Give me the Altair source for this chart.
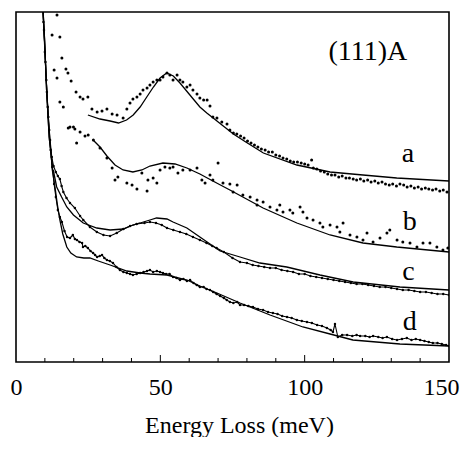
import altair as alt
import pandas as pd

# ---- data: (energy loss meV, intensity arb.) ----
tail = [(9.0, 372), (9.9, 322), (10.6, 272), (11.5, 225), (12.1, 209), (12.7, 190)]

fit_a = [(24.9, 247), (29.1, 243), (32.6, 241), (35.5, 239), (38.3, 242), (40.6, 247),
         (43.0, 255), (45.3, 265), (47.6, 275), (49.9, 284), (52.2, 289), (54.5, 286),
         (56.8, 279), (59.1, 271), (61.4, 263), (63.7, 255), (66.1, 249), (68.3, 244),
         (71.8, 236), (75.3, 228), (79.6, 220), (85.7, 209), (97.3, 197), (108.8, 190),
         (120.2, 187), (131.9, 184), (150.0, 181)]

fit_b = [(26.7, 222), (29.1, 215), (31.5, 206), (34.3, 197), (37.1, 192), (40.5, 190),
         (43.6, 192), (46.4, 196), (50.9, 199), (55.1, 198), (59.2, 194), (63.7, 188),
         (68.2, 181), (74.1, 172), (85.6, 154), (97.3, 139), (108.8, 127), (120.2, 119),
         (131.9, 115), (150.0, 110)]

fit_c = tail + [(12.9, 192), (14.1, 175), (15.8, 165), (17.6, 155), (19.9, 147), (23.3, 139),
                (28.0, 134), (32.6, 132), (37.2, 133), (40.5, 137), (43.0, 139), (46.4, 142),
                (48.7, 144), (52.3, 143), (54.4, 140), (59.2, 134), (63.7, 125), (70.7, 111),
                (77.6, 105), (84.5, 99), (93.8, 95), (105.3, 87), (116.8, 80), (133.0, 75),
                (150.0, 72)]

fit_d = tail + [(13.5, 175), (14.3, 158), (15.2, 142), (16.2, 128), (17.6, 115), (19.0, 109),
                (21.0, 105), (23.5, 104), (25.6, 104), (28.5, 101), (32.6, 97), (38.4, 91),
                (43.0, 89), (46.4, 88), (52.3, 87), (59.2, 82), (63.7, 76), (69.6, 69),
                (77.6, 59), (88.0, 47), (99.4, 35), (108.8, 28), (116.7, 22), (133.0, 18),
                (150.0, 16)]

data_a = [(12.5, 327), (13.2, 292), (14.2, 347), (14.2, 284), (15.2, 325), (15.9, 304),
          (17.3, 293), (18.0, 289), (19.1, 281), (20.8, 270), (22.2, 265), (23.2, 263),
          (24.9, 265), (26.3, 253), (28.1, 250), (29.8, 251), (31.5, 253), (33.3, 248),
          (35.0, 247), (37.1, 244), (38.4, 253), (39.5, 259), (40.5, 263), (41.9, 265),
          (43.0, 268), (44.0, 272), (45.4, 274), (46.4, 277), (47.5, 280), (48.8, 282),
          (49.9, 282), (50.9, 285), (52.3, 289), (53.3, 287), (54.4, 282), (55.8, 287),
          (56.8, 282), (57.8, 280), (59.2, 275), (60.3, 277), (61.3, 272), (62.7, 268),
          (63.7, 264), (65.0, 262), (66.2, 262), (67.2, 256), (68.2, 245), (69.6, 244),
          (71.3, 240), (73.1, 238), (74.1, 232), (75.3, 229), (76.5, 228), (77.8, 226),
          (79.0, 224), (80.2, 221), (81.4, 219), (82.6, 217), (83.8, 215), (85.0, 213),
          (86.3, 212), (87.5, 210), (88.8, 210), (90.0, 207), (91.3, 206), (92.5, 204),
          (93.8, 203), (95.0, 201), (96.2, 200), (97.5, 200), (98.8, 199), (100.0, 198),
          (101.2, 197), (102.4, 202), (103.0, 194), (104.2, 193), (105.5, 191), (106.8, 190),
          (108.0, 188), (109.3, 187), (110.5, 187), (111.8, 185), (113.0, 186), (114.3, 184),
          (115.5, 184), (116.8, 183), (118.0, 182), (119.3, 183), (120.5, 181), (121.8, 182),
          (123.0, 180), (124.3, 181), (125.5, 179), (126.8, 180), (128.0, 178), (129.3, 177),
          (130.5, 178), (131.8, 176), (133.0, 178), (134.3, 177), (135.5, 175), (136.8, 176),
          (138.0, 174), (139.3, 175), (140.5, 173), (141.8, 174), (143.0, 173), (144.3, 172),
          (145.5, 173), (146.8, 171), (148.0, 172), (149.3, 170)]

data_b = [(15.2, 260), (16.4, 255), (18.1, 234), (18.7, 235), (19.9, 235), (20.4, 233),
          (21.0, 219), (22.2, 230), (23.9, 226), (25.0, 227), (26.8, 222), (29.1, 214),
          (31.5, 204), (33.3, 194), (34.3, 182), (35.3, 185), (38.4, 179), (40.2, 177),
          (41.9, 173), (43.6, 189), (45.4, 171), (45.7, 182), (47.5, 184), (48.8, 179),
          (49.9, 192), (51.6, 195), (53.3, 194), (54.4, 195), (56.1, 189), (57.8, 192),
          (60.3, 192), (62.7, 194), (64.4, 182), (65.5, 179), (67.2, 187), (68.2, 182),
          (70.0, 199), (71.7, 179), (74.1, 178), (75.2, 170), (76.6, 177), (78.6, 167),
          (81.1, 165), (83.5, 162), (83.5, 157), (85.6, 160), (88.0, 155), (90.4, 152),
          (91.4, 157), (92.5, 150), (94.9, 152), (95.9, 149), (98.4, 155), (99.4, 150),
          (100.8, 144), (102.9, 142), (105.3, 139), (106.3, 135), (108.8, 137), (111.2, 135),
          (112.2, 130), (113.3, 139), (115.7, 127), (118.1, 125), (120.2, 122), (121.6, 129),
          (123.7, 120), (126.1, 124), (128.5, 129), (129.5, 132), (132.0, 122), (134.0, 120),
          (136.5, 119), (138.9, 115), (141.0, 119), (143.4, 119), (145.8, 115), (147.9, 112),
          (149.6, 114)]

data_c = [(9.2, 362), (9.7, 332), (10.2, 300), (10.7, 270), (11.2, 245), (11.8, 222),
          (12.4, 205), (13.0, 196), (13.8, 190), (14.5, 186), (15.2, 183), (15.8, 176),
          (16.4, 170), (17.5, 164), (18.7, 159), (20.4, 154), (22.2, 146), (23.3, 142),
          (25.6, 135), (28.0, 130), (30.3, 127), (32.6, 126), (34.9, 129), (37.2, 133),
          (39.5, 136), (41.8, 138), (44.5, 139), (46.4, 140), (48.5, 139), (50.5, 137),
          (52.3, 134), (54.5, 132), (56.8, 130), (59.0, 128), (61.3, 125), (63.7, 122),
          (66.0, 119), (68.0, 116), (69.5, 114), (72.0, 110), (75.0, 104), (77.6, 100),
          (80, 99), (82, 97), (84, 96), (86, 95), (88, 94), (90, 94), (92, 92), (94, 91),
          (96, 90), (98, 88), (100, 88), (102, 86), (104, 85), (106, 84), (108, 83),
          (110, 82), (112, 81), (114, 80), (116, 79), (118, 78), (120, 78), (122, 77),
          (124, 76), (126, 75), (128, 75), (130, 74), (132, 73), (134, 72), (136, 72),
          (138, 71), (140, 70), (142, 70), (144, 69), (146, 68), (148, 68), (150, 67)]

data_d = [(9.0, 372), (9.5, 340), (10.0, 310), (10.5, 282), (11.0, 255), (11.5, 232),
          (12.0, 212), (12.6, 195), (13.2, 178), (13.8, 165), (14.5, 152), (15.2, 145),
          (15.9, 140), (16.8, 131), (17.7, 125), (18.7, 124), (19.7, 127), (20.4, 123),
          (21.1, 122), (22.0, 120), (22.9, 119), (23.2, 115), (24.0, 116), (24.9, 114),
          (25.8, 111), (26.7, 109), (27.4, 107), (28.1, 105), (29.0, 106), (29.8, 107),
          (30.6, 104), (31.5, 102), (32.5, 101), (33.6, 99), (34.8, 95), (36.0, 92),
          (37.2, 90), (38.4, 89), (39.5, 88), (40.5, 87), (41.8, 88), (43.0, 89),
          (44.2, 90), (45.4, 91), (46.4, 92), (47.5, 90), (48.8, 91), (49.9, 90),
          (50.9, 89), (52.0, 88), (53.2, 88), (54.4, 85), (55.6, 84), (56.8, 82),
          (58.0, 83), (59.2, 81), (60.3, 82), (61.5, 79), (62.6, 77), (63.7, 75),
          (65.0, 75), (66.0, 73), (67.2, 72), (68.3, 70), (69.5, 68), (70.7, 66),
          (72.0, 64), (73.0, 62), (74.1, 60), (75.3, 59), (76.6, 60), (77.6, 57),
          (79.0, 57), (80.5, 56), (82.1, 55), (83.8, 53), (85.6, 52), (87.3, 50),
          (89.0, 49), (90.6, 48), (92.2, 46), (93.9, 45), (95.5, 44), (97.3, 42),
          (99.0, 41), (100.8, 40), (102.5, 39), (104.3, 37), (106.0, 36), (107.7, 34),
          (109.0, 32), (109.8, 30), (110.5, 38), (111.5, 25), (113.0, 27), (114.7, 27),
          (116.5, 26), (118.0, 27), (119.2, 26), (121.0, 26), (122.5, 25), (123.7, 26),
          (125.5, 25), (127.0, 24), (128.5, 25), (130.3, 23), (132.0, 22), (133.7, 23),
          (135.4, 24), (137.0, 22), (138.5, 23), (140.0, 22), (141.5, 21), (143.0, 20),
          (144.4, 19), (146.0, 19), (147.5, 18), (149.0, 17), (150.0, 16)]

curve_names = ["a", "b", "c", "d"]
label_E = [135.8, 136.4, 136.0, 136.4]
label_I = [200, 132, 82, 32]
panel_title = "(111)A"
panel_title_E = 121.9
panel_title_I = 302
x_labels = [0, 50, 100, 150]
minor_ticks = [10, 20, 30, 40, 60, 70, 80, 90, 110, 120, 130, 140]
major_ticks = [50, 100]


def frame(pairs, name):
    return pd.DataFrame({"E": [p[0] for p in pairs], "I": [p[1] for p in pairs], "s": name})


fits = pd.concat([frame(fit_a, "a"), frame(fit_b, "b"), frame(fit_c, "c"), frame(fit_d, "d")])
dots_ab = pd.concat([frame(data_a, "a"), frame(data_b, "b")])
dots_cd = pd.concat([frame(data_c, "c"), frame(data_d, "d")])

SERIF = "Liberation Serif"
last_test = "datum.value === 150"

x_enc = alt.X("E:Q", scale=alt.Scale(domain=[0, 150], nice=False),
              axis=alt.Axis(values=x_labels, ticks=False, domain=False, grid=False,
                            labelFont=SERIF, labelFontSize=24, labelColor="black",
                            labelBaseline="alphabetic", labelPadding=32, labelAngle=0,
                            labelFlush=False, labelOverlap=False,
                            labelAlign={"condition": {"test": last_test, "value": "right"},
                                        "value": "center"},
                            labelOffset={"condition": {"test": last_test, "value": 10},
                                         "value": 0},
                            title="Energy Loss (meV)", titleFont=SERIF, titleFontSize=24,
                            titleFontWeight="normal", titleColor="black",
                            titleBaseline="alphabetic", titleY=70, titleX=223))
y_enc = alt.Y("I:Q", scale=alt.Scale(domain=[0, 350], nice=False, zero=False), axis=None)

fit_layer = alt.Chart(fits).mark_line(color="black", strokeWidth=1.3, clip=True).encode(
    x=x_enc, y=y_enc, detail="s:N")

ab_layer = alt.Chart(dots_ab).mark_circle(color="black", size=9, opacity=1, clip=True).encode(
    x="E:Q", y="I:Q")

cd_line = alt.Chart(dots_cd).mark_line(color="black", strokeWidth=1.1, clip=True).encode(
    x="E:Q", y="I:Q", detail="s:N")
cd_pts = alt.Chart(dots_cd).mark_circle(color="black", size=6, opacity=1, clip=True).encode(
    x="E:Q", y="I:Q")

minor_layer = alt.Chart(pd.DataFrame({"E": minor_ticks})).mark_rule(color="black", strokeWidth=1).encode(
    x="E:Q", y=alt.value(350), y2=alt.value(346))
major_layer = alt.Chart(pd.DataFrame({"E": major_ticks})).mark_rule(color="black", strokeWidth=1).encode(
    x="E:Q", y=alt.value(350), y2=alt.value(343))

labels = pd.DataFrame({"E": label_E, "I": label_I, "t": curve_names})
label_layer = alt.Chart(labels).mark_text(font=SERIF, fontSize=28, color="black",
                                           align="center", baseline="alphabetic").encode(
    x="E:Q", y="I:Q", text="t:N")

title_df = pd.DataFrame({"E": [panel_title_E], "I": [panel_title_I], "t": [panel_title]})
title_layer = alt.Chart(title_df).mark_text(font=SERIF, fontSize=28, color="black",
                                             align="center", baseline="alphabetic").encode(
    x="E:Q", y="I:Q", text="t:N")

chart = alt.layer(fit_layer, ab_layer, cd_line, cd_pts, minor_layer, major_layer,
                  label_layer, title_layer).properties(
    width=433, height=350,
    autosize=alt.AutoSizeParams(type="none"),
    padding={"left": 8, "top": 4, "right": 11, "bottom": 75},
    background="white",
).configure_view(stroke="black", strokeWidth=1.6)

chart.save("out.html", embed_options={"renderer": "svg", "actions": False})
